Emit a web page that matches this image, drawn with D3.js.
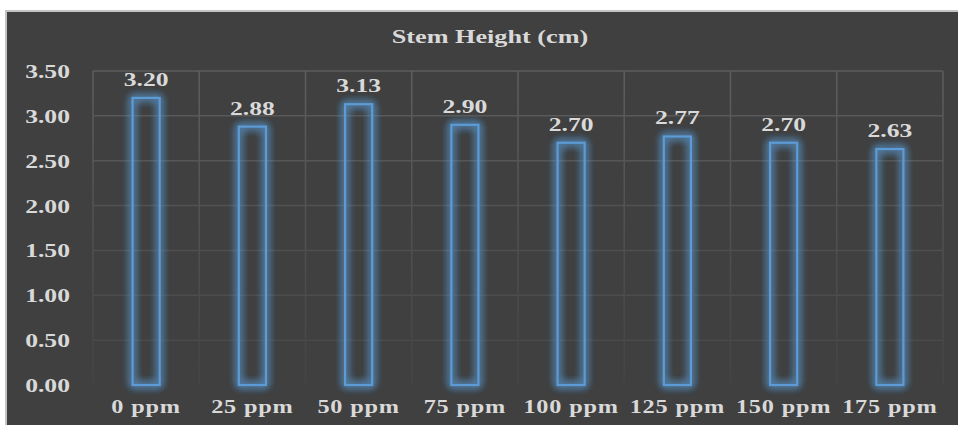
<!DOCTYPE html>
<html>
<head>
<meta charset="utf-8">
<script src="https://cdn.jsdelivr.net/npm/d3@7"></script>
<style>
  html, body { margin: 0; padding: 0; background: #ffffff; }
  svg text { font-family: "Liberation Serif", "Times New Roman", serif; font-weight: bold; fill: #d9d9d9; }
</style>
</head>
<body>
<svg id="chart" width="958" height="425"></svg>
<script>
var categories = ["0 ppm", "25 ppm", "50 ppm", "75 ppm", "100 ppm", "125 ppm", "150 ppm", "175 ppm"];
var heights = [3.20, 2.88, 3.13, 2.90, 2.70, 2.77, 2.70, 2.63];
var yTicks = [0, 0.5, 1.0, 1.5, 2.0, 2.5, 3.0, 3.5];
var title = "Stem Height (cm)";

var width = 958, height = 425;
var plot = {left: 93, right: 943, top: 71, bottom: 385};
var stretch = 1.35;   // text in the picture is drawn wide

var svg = d3.select("#chart");
var defs = svg.append("defs");

// glow round the bar outlines
var glow = defs.append("filter").attr("id", "glow")
    .attr("x", "-80%").attr("y", "-20%").attr("width", "260%").attr("height", "140%");
glow.append("feGaussianBlur").attr("in", "SourceGraphic").attr("stdDeviation", 4).attr("result", "blur");
var merge = glow.append("feMerge");
merge.append("feMergeNode").attr("in", "blur");
merge.append("feMergeNode").attr("in", "blur");
merge.append("feMergeNode").attr("in", "blur");
merge.append("feMergeNode").attr("in", "SourceGraphic");

// vertical grid fades toward the bottom
var grad = defs.append("linearGradient").attr("id", "vfade")
    .attr("gradientUnits", "userSpaceOnUse")
    .attr("x1", 0).attr("y1", plot.top).attr("x2", 0).attr("y2", plot.bottom);
grad.append("stop").attr("offset", "0%").attr("stop-color", "#5e5e5e");
grad.append("stop").attr("offset", "60%").attr("stop-color", "#4e4e4e");
grad.append("stop").attr("offset", "100%").attr("stop-color", "#444444");

// chart area
svg.append("rect")
    .attr("x", 6).attr("y", 11)
    .attr("width", width).attr("height", height)
    .attr("fill", "#404040")
    .attr("stroke", "#c4c4c4")
    .attr("stroke-width", 2);

var x = d3.scaleBand().domain(categories).range([plot.left, plot.right]).padding(0);
var y = d3.scaleLinear().domain([0, 3.5]).range([plot.bottom, plot.top]);
var op = d3.scaleLinear().domain([0, 3.5]).range([0.25, 1]);

// horizontal grid
svg.append("g").selectAll("line")
    .data(yTicks)
    .enter()
    .append("line")
    .attr("x1", plot.left).attr("x2", plot.right)
    .attr("y1", function(d) { return y(d); })
    .attr("y2", function(d) { return y(d); })
    .attr("stroke", "#5c5c5c")
    .attr("stroke-opacity", function(d) { return d === 0 ? 0 : op(d); })
    .attr("stroke-width", 1.5);

// vertical grid at band edges
var edges = categories.map(function(c) { return x(c); }).concat([plot.right]);
svg.append("g").selectAll("line")
    .data(edges)
    .enter()
    .append("line")
    .attr("x1", function(d) { return d; })
    .attr("x2", function(d) { return d + 0.01; })
    .attr("y1", plot.top).attr("y2", plot.bottom)
    .attr("stroke", "url(#vfade)")
    .attr("stroke-width", 1.5);

// bars
var barW = x.bandwidth() * 0.255;
svg.append("g").selectAll("rect")
    .data(heights)
    .enter()
    .append("rect")
    .attr("x", function(d, i) { return x(categories[i]) + x.bandwidth() / 2 - barW / 2; })
    .attr("y", function(d) { return y(d); })
    .attr("width", barW)
    .attr("height", function(d) { return y(0) - y(d); })
    .attr("fill", "none")
    .attr("stroke", "#5b9bd5")
    .attr("stroke-width", 2.2)
    .attr("filter", "url(#glow)");

// value labels
svg.append("g").selectAll("text")
    .data(heights)
    .enter()
    .append("text")
    .attr("transform", function(d, i) {
        return "translate(" + (x(categories[i]) + x.bandwidth() / 2) + "," + (y(d) - 12) + ") scale(" + stretch + ",1)";
    })
    .attr("text-anchor", "middle")
    .style("font-size", "19px")
    .text(function(d) { return d.toFixed(2); });

// y tick labels
svg.append("g").selectAll("text")
    .data(yTicks)
    .enter()
    .append("text")
    .attr("transform", function(d) { return "translate(70," + (y(d) + 7) + ") scale(" + stretch + ",1)"; })
    .attr("text-anchor", "end")
    .style("font-size", "19px")
    .text(function(d) { return d.toFixed(2); });

// x tick labels
svg.append("g").selectAll("text")
    .data(categories)
    .enter()
    .append("text")
    .attr("transform", function(d) { return "translate(" + (x(d) + x.bandwidth() / 2) + ",413) scale(" + stretch + ",1)"; })
    .attr("text-anchor", "middle")
    .style("font-size", "18px")
    .style("letter-spacing", "0.6px")
    .text(function(d) { return d; });

// title
svg.append("text")
    .attr("transform", "translate(490,43) scale(1.38,1)")
    .attr("text-anchor", "middle")
    .style("font-size", "19px")
    .text(title);
</script>
</body>
</html>
